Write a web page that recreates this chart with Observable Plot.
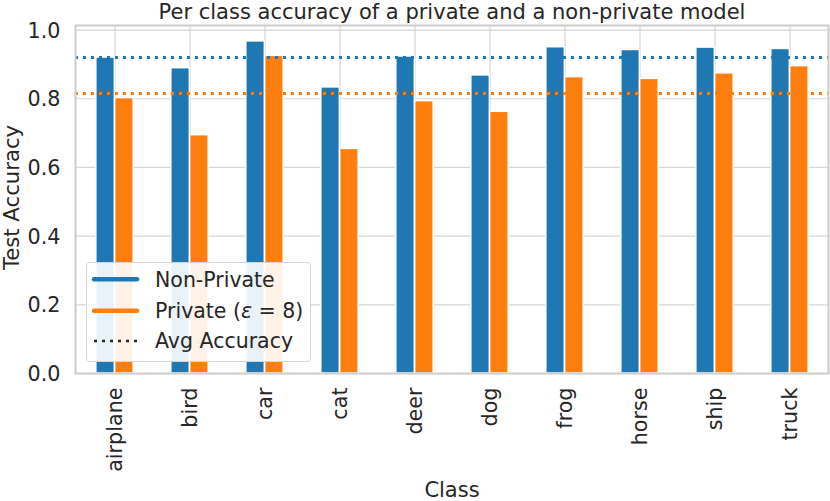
<!DOCTYPE html>
<html><head><meta charset="utf-8">
<script src="https://cdn.jsdelivr.net/npm/d3@7"></script>
<script src="https://cdn.jsdelivr.net/npm/@observablehq/plot@0.6"></script>
<style>
body{margin:0;background:#fff;}
#wrap{position:relative;width:830px;height:501px;font-family:"DejaVu Sans",sans-serif;color:#262626;}
#legend{position:absolute;left:86px;top:262px;width:225px;height:100px;background:rgba(255,255,255,0.9);border:1px solid #d5d5d5;border-radius:4px;box-sizing:border-box;}
#legend svg{position:absolute;left:-1px;top:-1px;}
</style></head><body><div id="wrap"></div>
<script>
const classes = ["airplane","bird","car","cat","deer","dog","frog","horse","ship","truck"];
const nonPrivate = [0.920,0.889,0.967,0.833,0.923,0.868,0.950,0.942,0.949,0.945];
const privateAcc = [0.802,0.694,0.925,0.654,0.793,0.762,0.863,0.858,0.874,0.895];
const avgAccuracy = [0.920, 0.815];
const seriesNames = ["Non-Private", "Private", "Avg Accuracy"];
const colors = ["#1f77b4", "#ff7f0e"];
const yTicks = [0,0.2,0.4,0.6,0.8,1.0];
const title = "Per class accuracy of a private and a non-private model";
const xLabel = "Class";
const yLabel = "Test Accuracy";

const W=830,H=501,ml=75,mr=2,mt=25,mb=128;
const step=(W-ml-mr)/classes.length;
const rows = classes.map((c,i)=>({cls:c, np: nonPrivate[i], p: privateAcc[i]}));

const chart = Plot.plot({
  width:W,height:H,marginLeft:ml,marginRight:mr,marginTop:mt,marginBottom:mb,
  style:{fontFamily:"DejaVu Sans", fontSize:"20.7px", color:"#262626", background:"white"},
  x:{type:"band",domain:classes,padding:0,label:null},
  y:{domain:[0,1.0133],label:null},
  marks:[
    Plot.gridY(yTicks,{stroke:"#d6d6d6",strokeOpacity:1,strokeWidth:1.2}),
    Plot.gridX(classes,{stroke:"#d6d6d6",strokeOpacity:1,strokeWidth:1.2}),
    Plot.barY(rows,{x:"cls",y:"np",fill:colors[0],stroke:"white",strokeWidth:1.5,insetLeft:step*0.25,insetRight:step*0.5}),
    Plot.barY(rows,{x:"cls",y:"p",fill:colors[1],stroke:"white",strokeWidth:1.5,insetLeft:step*0.5,insetRight:step*0.25}),
    Plot.ruleY([avgAccuracy[0]],{stroke:colors[0],strokeWidth:3,strokeDasharray:"3,5"}),
    Plot.ruleY([avgAccuracy[1]],{stroke:colors[1],strokeWidth:3,strokeDasharray:"3,5"}),
    Plot.frame({stroke:"#cccccc",strokeWidth:2}),
    Plot.axisY(yTicks,{tickSize:0,tickPadding:15,tickFormat:d3.format(".1f"),label:null,dy:1}),
    Plot.axisX({tickSize:0,tickRotate:-90,tickPadding:14,label:null}),
    Plot.text([title],{text:d=>d,frameAnchor:"top",dy:-7,lineAnchor:"bottom",fontSize:21}),
    Plot.text([xLabel],{text:d=>d,frameAnchor:"bottom",dy:123.5,lineAnchor:"bottom",fontSize:21}),
    Plot.text([yLabel],{text:d=>d,frameAnchor:"left",dx:-57,dy:-2,rotate:-90,lineAnchor:"bottom",textAnchor:"middle",fontSize:21.2})
  ]
});
const wrap=document.getElementById("wrap");
wrap.appendChild(chart);

const lg=document.createElement("div");
lg.id="legend";
lg.innerHTML=`<svg width="225" height="100" style="font-family:'DejaVu Sans';font-size:20.5px;fill:#262626">
<line x1="8" x2="51" y1="17.3" y2="17.3" stroke="${colors[0]}" stroke-width="4.5" stroke-linecap="round"/>
<line x1="8" x2="51" y1="48.7" y2="48.7" stroke="${colors[1]}" stroke-width="4.5" stroke-linecap="round"/>
<line x1="8" x2="51" y1="79" y2="79" stroke="#262626" stroke-width="2.5" stroke-dasharray="3,5"/>
<text x="69" y="17.3" dy="0.36em">${seriesNames[0]}</text>
<text x="69" y="48.7" dy="0.36em">${seriesNames[1]} (<tspan font-style="italic">ε</tspan> = 8)</text>
<text x="69" y="79" dy="0.36em">${seriesNames[2]}</text>
</svg>`;
wrap.appendChild(lg);
</script></body></html>
